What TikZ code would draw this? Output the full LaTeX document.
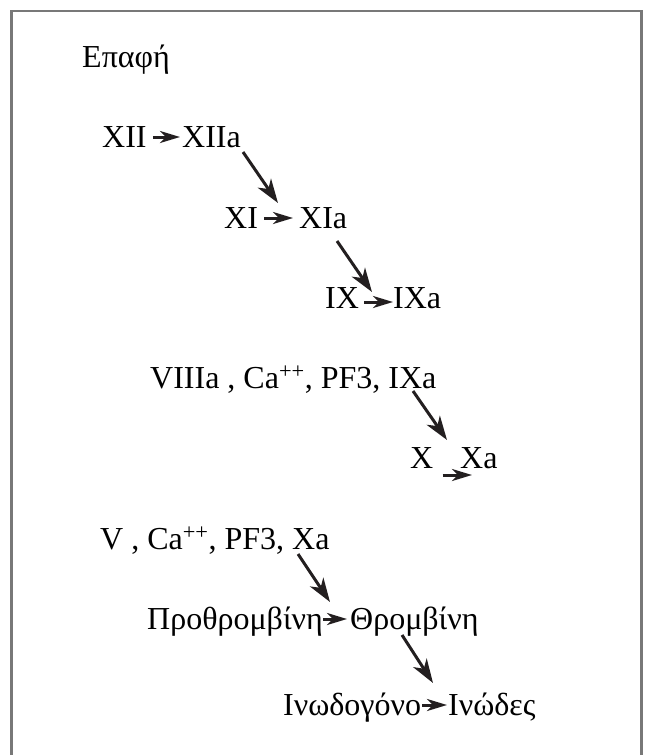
\documentclass[tikz,border=0pt]{standalone}
\usepackage{fontspec}
\setmainfont{Liberation Serif}
\usetikzlibrary{arrows.meta}
\definecolor{arrowc}{RGB}{35,31,32}
\definecolor{framec}{RGB}{120,120,120}
\begin{document}
\begin{tikzpicture}[x=1pt,y=-1pt,
  lbl/.style={anchor=base west, inner sep=0pt, font=\fontsize{32}{38}\selectfont, text=black},
  harr/.style={draw=arrowc, line width=3pt, -{Stealth[length=20pt,width=12pt,inset=6pt]}},
  darr/.style={draw=arrowc, line width=3pt, -{Stealth[length=24pt,width=16pt,inset=7pt]}},
  framestyle/.style={draw=framec, line width=2.5pt}]
\useasboundingbox (0,0) rectangle (646,755);
\draw[framestyle] (11.5,760) -- (11.5,11) -- (641.5,11) -- (641.5,760);

\node[lbl] (epafi) at (82,67) {Επαφή};
\node[lbl] (xii) at (102,147) {XII};
\node[lbl] (xiia) at (182,147) {XIIa};
\node[lbl] (xi) at (224,228) {XI};
\node[lbl] (xia) at (299,228) {XIa};
\node[lbl] (ix) at (325,308) {IX};
\node[lbl] (ixa) at (393,308) {IXa};
\node[lbl] (viii) at (150,388) {VIIIa , Ca\textsuperscript{++}, PF3, IXa};
\node[lbl] (x) at (410,468) {X};
\node[lbl] (xa) at (460,468) {Xa};
\node[lbl] (v) at (100,549) {V , Ca\textsuperscript{++}, PF3, Xa};
\node[lbl] (proth) at (147,629) {Προθρομβίνη};
\node[lbl] (throm) at (350,629) {Θρομβίνη};
\node[lbl] (inod) at (283,715) {Ινωδογόνο};
\node[lbl] (inodes) at (448,715) {Ινώδες};

% horizontal arrows
\draw[harr, shorten <=6pt, shorten >=2pt] ([yshift=10pt]xii.base east) -- ([yshift=10pt]xiia.base west);
\draw[harr, shorten <=6pt, shorten >=6pt] ([yshift=10pt]xi.base east) -- ([yshift=10pt]xia.base west);
\draw[harr, shorten <=5pt, shorten >=0pt] ([yshift=6pt]ix.base east) -- ([yshift=6pt]ixa.base west);
\draw[harr] ([xshift=9pt,yshift=-7pt]x.base east) -- ([xshift=12pt,yshift=-7pt]xa.base west);
\draw[harr, shorten <=0pt, shorten >=3pt] ([yshift=10pt]proth.base east) -- ([yshift=10pt]throm.base west);
\draw[harr, shorten <=1pt, shorten >=1pt] ([yshift=10pt]inod.base east) -- ([yshift=10pt]inodes.base west);

% diagonal arrows
\coordinate (d1s) at (243,152); \coordinate (d1e) at (278,203);
\coordinate (d2s) at (337,241); \coordinate (d2e) at (372,292);
\coordinate (d3s) at (413,391); \coordinate (d3e) at (447,440);
\coordinate (d4s) at (298,554); \coordinate (d4e) at (330,602);
\coordinate (d5s) at (402,635); \coordinate (d5e) at (433,683);
\draw[darr] (d1s) -- (d1e);
\draw[darr] (d2s) -- (d2e);
\draw[darr] (d3s) -- (d3e);
\draw[darr] (d4s) -- (d4e);
\draw[darr] (d5s) -- (d5e);
\end{tikzpicture}
\end{document}
